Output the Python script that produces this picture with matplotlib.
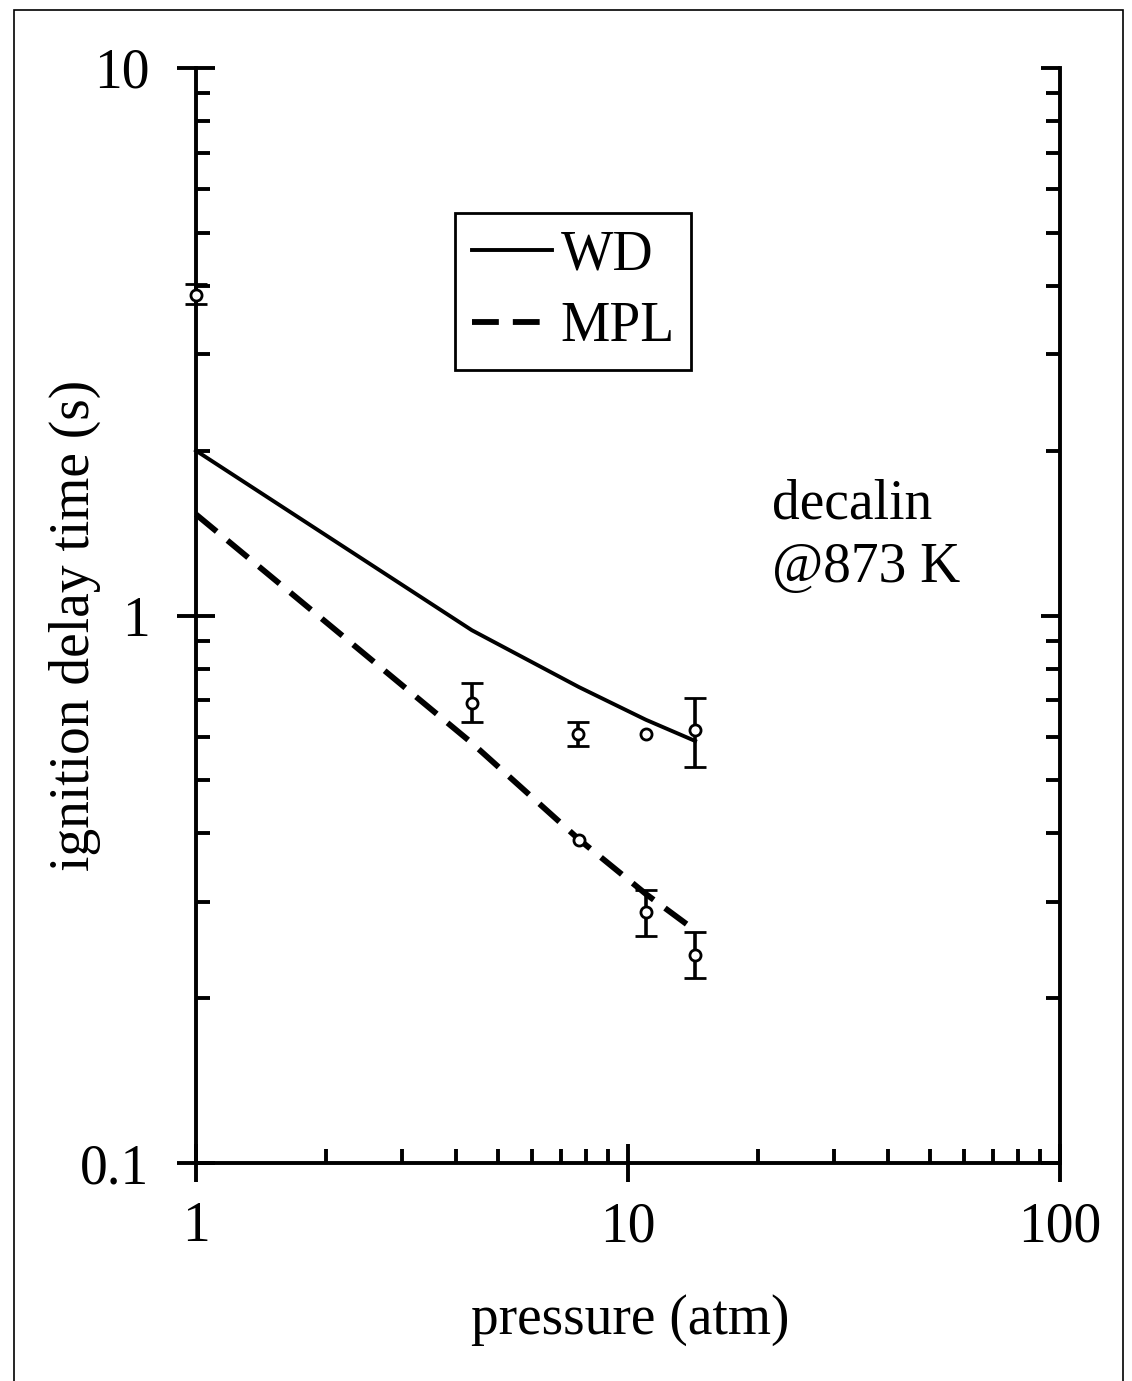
import matplotlib
matplotlib.use("Agg")
import matplotlib.pyplot as plt
from matplotlib.patches import Rectangle
from matplotlib.ticker import LogLocator, NullFormatter, FixedFormatter, FixedLocator
import numpy as np

# ---- data ----
model_p = [1.0, 4.35, 7.7, 11.0, 14.3]
wd_tau = [2.0, 0.94, 0.74, 0.645, 0.59]
mpl_tau = [1.53, 0.585, 0.39, 0.31, 0.266]

exp_p = [1.0, 4.35, 7.66, 11.0, 14.3, 7.7, 11.0, 14.3]
exp_tau = [3.85, 0.692, 0.607, 0.607, 0.618, 0.389, 0.287, 0.240]
exp_lo = [3.71, 0.639, 0.578, 0.607, 0.529, 0.389, 0.260, 0.218]
exp_hi = [4.03, 0.753, 0.639, 0.607, 0.707, 0.389, 0.315, 0.264]

x_ticks = [1, 10, 100]
x_ticklabels = ["1", "10", "100"]
y_ticks = [0.1, 1, 10]
y_ticklabels = ["0.1", "1", "10"]

plt.rcParams['font.family'] = ['Liberation Serif', 'DejaVu Serif']
FS = 40

W, H = 1132, 1381
fig = plt.figure(figsize=(W / 100, H / 100), dpi=100)
ax_l, ax_r, ax_t, ax_b = 196, 1060, 68, 1163
ax = fig.add_axes([ax_l / W, 1 - ax_b / H, (ax_r - ax_l) / W, (ax_b - ax_t) / H])

ax.set_xscale('log')
ax.set_yscale('log')
ax.set_xlim(1, 100)
ax.set_ylim(0.1, 10)

lw_axis = 2.8
ax.spines['top'].set_visible(False)
for s in ['left', 'right', 'bottom']:
    ax.spines[s].set_linewidth(lw_axis)

ax.xaxis.set_major_locator(FixedLocator(x_ticks))
ax.xaxis.set_major_formatter(FixedFormatter(x_ticklabels))
ax.xaxis.set_minor_locator(LogLocator(base=10, subs=np.arange(2, 10)))
ax.xaxis.set_minor_formatter(NullFormatter())
ax.yaxis.set_major_locator(FixedLocator(y_ticks))
ax.yaxis.set_major_formatter(FixedFormatter(y_ticklabels))
ax.yaxis.set_minor_locator(LogLocator(base=10, subs=np.arange(2, 10)))
ax.yaxis.set_minor_formatter(NullFormatter())

ax.tick_params(which='major', direction='inout', length=27, width=lw_axis,
               labelsize=FS, pad=14, top=False, right=False)
ax.tick_params(axis='y', which='major', pad=20)
ax.tick_params(which='minor', direction='in', length=10, width=lw_axis,
               top=False, right=False)

# right-side ticks (inward only)
ax2 = ax.twinx()
ax2.set_yscale('log')
ax2.set_ylim(0.1, 10)
ax2.yaxis.set_major_locator(FixedLocator(y_ticks))
ax2.yaxis.set_minor_locator(LogLocator(base=10, subs=np.arange(2, 10)))
ax2.yaxis.set_minor_formatter(NullFormatter())
ax2.tick_params(which='major', direction='in', length=14, width=lw_axis, labelright=False)
ax2.tick_params(which='minor', direction='in', length=10, width=lw_axis)
for s in ax2.spines.values():
    s.set_visible(False)

# model lines
ax.plot(model_p, wd_tau, color='black', lw=2.8, label='WD', clip_on=False, zorder=3)
ax.plot(model_p, mpl_tau, color='black', lw=4.2, dashes=(4.6, 2.4), label='MPL',
        clip_on=False, zorder=3)

# experimental points
p = np.array(exp_p)
t = np.array(exp_tau)
lo = np.array(exp_lo)
hi = np.array(exp_hi)
has_err = (hi - lo) > 0
yerr = np.vstack([t - lo, hi - t])[:, has_err]
ax.errorbar(p[has_err], t[has_err], yerr=yerr, fmt='o', ms=8, mfc='white', mec='black',
            mew=2.0, ecolor='black', elinewidth=2.6, capsize=8, capthick=3.2,
            clip_on=False, zorder=4)
ax.plot(p[~has_err], t[~has_err], 'o', ms=8, mfc='white', mec='black', mew=2.0,
        clip_on=False, zorder=4)

# legend
leg = ax.legend(loc='upper left', bbox_to_anchor=(455 / W, 1 - 213 / H),
                bbox_transform=fig.transFigure, borderaxespad=0, fontsize=FS,
                frameon=True, fancybox=False, framealpha=1, handlelength=1.45,
                handletextpad=0.15, labelspacing=0.35, borderpad=0.3)
leg.get_frame().set_edgecolor('black')
leg.get_frame().set_linewidth(2.0)

# annotation
ax.text(21.5, 1.78, "decalin\n@873 K", fontsize=FS, ha='left', va='top', linespacing=1.3)

# axis labels
ax.set_xlabel("pressure (atm)", fontsize=FS, va='center')
ax.xaxis.set_label_coords((630 - ax_l) / (ax_r - ax_l), (ax_b - 1320) / (ax_b - ax_t))
ax.set_ylabel("ignition delay time (s)", fontsize=FS, va='center')
ax.yaxis.set_label_coords((75 - ax_l) / (ax_r - ax_l), (ax_b - 625) / (ax_b - ax_t))

# page border (scan frame)
fig.add_artist(Rectangle((14 / W, -0.02), (1123 - 14) / W, 1.02 - 10 / H,
                         transform=fig.transFigure, fill=False, edgecolor='black', lw=1.2))

fig.savefig("out.png", dpi=100)
